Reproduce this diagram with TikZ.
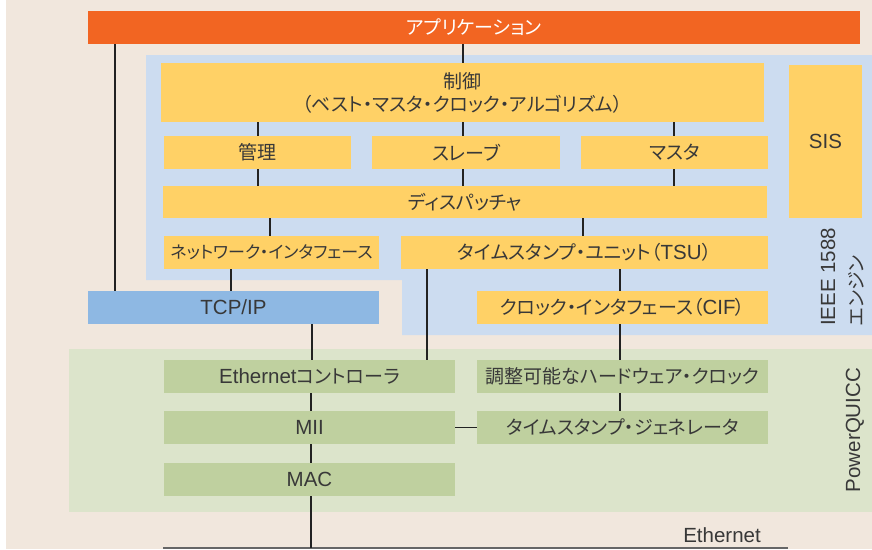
\documentclass[tikz,border=0pt]{standalone}
\usepackage{fontspec}
\setmainfont{Noto Sans CJK JP}[RawFeature=+palt]
\newfontfamily\latfam{Liberation Sans}
\newcommand\latn[1]{{\latfam\fontsize{20.5}{23}\selectfont #1}}
\definecolor{bgbeige}{HTML}{F1E7DD}
\definecolor{appor}{HTML}{F26522}
\definecolor{engblue}{HTML}{CCDCF0}
\definecolor{boxyel}{HTML}{FFD166}
\definecolor{tcpblue}{HTML}{8EB8E3}
\definecolor{pqgreen}{HTML}{DCE4CB}
\definecolor{boxgreen}{HTML}{BFD09F}
\definecolor{txt}{HTML}{383838}
\definecolor{conncol}{HTML}{222222}
\tikzset{
  blk/.style={rectangle, inner sep=0pt, outer sep=0pt, text=txt, font=\fontsize{19}{23}\selectfont, align=center},
  ybox/.style={blk, fill=boxyel},
  gbox/.style={blk, fill=boxgreen},
  conn/.style={draw=conncol, line width=1.8pt},
  vlabel/.style={rotate=90, inner sep=0pt, text=txt, font=\fontsize{19}{23}\selectfont},
}
\begin{document}
\begin{tikzpicture}[x=1pt,y=-1pt]
\useasboundingbox (0,0) rectangle (872,549);
\fill[white] (0,0) rectangle (872,549);
\fill[bgbeige] (6,0) rectangle (872,549);
% regions
\fill[engblue] (146,55) -- (872,55) -- (872,335) -- (402,335) -- (402,280) -- (146,280) -- cycle;
\fill[pqgreen] (69,349) rectangle (872,512);
% nodes
\node[blk, fill=appor, text=white, minimum width=772pt, minimum height=33pt] (app) at (474,27.5) {アプリケーション};
\node[ybox, minimum width=603pt, minimum height=59pt] (ctrl) at (462.5,92.5) {制御\\（ベスト・マスタ・クロック・アルゴリズム）};
\node[ybox, minimum width=73pt, minimum height=153pt] (sis) at (825.5,141.5) {\latn{SIS}};
\node[ybox, minimum width=187pt, minimum height=33pt] (kanri) at (257.5,152.5) {管理};
\node[ybox, minimum width=188pt, minimum height=33pt] (slave) at (466,152.5) {スレーブ};
\node[ybox, minimum width=187pt, minimum height=33pt] (master) at (674.5,152.5) {マスタ};
\node[ybox, minimum width=604pt, minimum height=32pt] (disp) at (465,202) {ディスパッチャ};
\node[ybox, minimum width=215pt, minimum height=33pt, font=\fontsize{17}{21}\selectfont] (ni) at (271.5,252.5) {ネットワーク・インタフェース};
\node[ybox, minimum width=367pt, minimum height=33pt] (tsu) at (584.5,252.5) {タイムスタンプ・ユニット（\latn{TSU}）};
\node[ybox, minimum width=291pt, minimum height=33pt] (cif) at (622.5,307.5) {クロック・インタフェース（\latn{CIF}）};
\node[blk, fill=tcpblue, minimum width=291pt, minimum height=33pt] (tcp) at (233.5,307.5) {\latn{TCP/IP}};
\node[gbox, minimum width=291pt, minimum height=33pt] (ethc) at (309.5,376.5) {\latn{Ethernet}コントローラ};
\node[gbox, minimum width=291pt, minimum height=33pt] (mii) at (309.5,427.5) {\latn{MII}};
\node[gbox, minimum width=291pt, minimum height=33pt] (mac) at (309.5,479.5) {\latn{MAC}};
\node[gbox, minimum width=291pt, minimum height=33pt] (adj) at (622.5,376.5) {調整可能なハードウェア・クロック};
\node[gbox, minimum width=291pt, minimum height=33pt] (tsg) at (622.5,427.5) {タイムスタンプ・ジェネレータ};
% labels
\node[vlabel, anchor=west] (ieee) at (828,326) {\latn{IEEE 1588}};
\node[vlabel, anchor=west] (engine) at (856,326) {エンジン};
\node[vlabel] (pq) at (855,430) {\latn{PowerQUICC}};
\node[blk] (ethlbl) at (722,535) {\latn{Ethernet}};
% Ethernet bus
\coordinate (busL) at (163,548);
\coordinate (busR) at (788,548);
\draw[draw=black!60, line width=1.5pt] (busL) -- (busR);
% connectors
\draw[conn] (app.south -| 115,0) -- (tcp.north -| 115,0);
\draw[conn] (app.south -| 463,0) -- (ctrl.north -| 463,0);
\draw[conn] (ctrl.south -| 258,0) -- (kanri.north -| 258,0);
\draw[conn] (ctrl.south -| 463,0) -- (slave.north -| 463,0);
\draw[conn] (ctrl.south -| 674,0) -- (master.north -| 674,0);
\draw[conn] (kanri.south -| 258,0) -- (disp.north -| 258,0);
\draw[conn] (slave.south -| 463,0) -- (disp.north -| 463,0);
\draw[conn] (master.south -| 674,0) -- (disp.north -| 674,0);
\draw[conn] (disp.south -| 270,0) -- (ni.north -| 270,0);
\draw[conn] (disp.south -| 583,0) -- (tsu.north -| 583,0);
\draw[conn] (ni.south -| 231,0) -- (tcp.north -| 231,0);
\draw[conn] (tcp.south -| 312,0) -- (ethc.north -| 312,0);
\draw[conn] (tsu.south -| 427,0) -- (ethc.north -| 427,0);
\draw[conn] (tsu.south -| 620,0) -- (cif.north -| 620,0);
\draw[conn] (cif.south -| 620,0) -- (adj.north -| 620,0);
\draw[conn] (adj.south -| 620,0) -- (tsg.north -| 620,0);
\draw[conn] (ethc.south -| 311,0) -- (mii.north -| 311,0);
\draw[conn] (mii.south -| 311,0) -- (mac.north -| 311,0);
\draw[conn] (mac.south -| 311,0) -- (busL -| 311,0);
\draw[conn] (mii.east) -- (tsg.west);
\end{tikzpicture}
\end{document}
